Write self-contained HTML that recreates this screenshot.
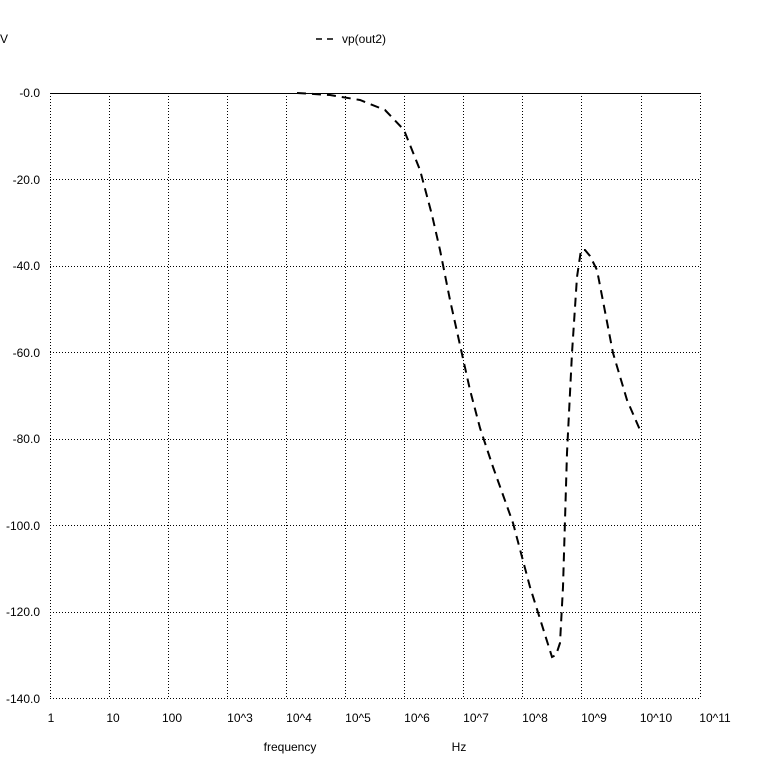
<!DOCTYPE html>
<html><head><meta charset="utf-8"><style>
body{margin:0;background:#fff}
svg text{font-family:"Liberation Sans",sans-serif;font-size:12px;fill:#000}
</style></head><body>
<svg width="768" height="768" viewBox="0 0 768 768">
<g stroke="#000" stroke-width="1" stroke-dasharray="1,2" fill="none">
<path d="M50.5 93V698M109.5 93V698M168.5 93V698M227.5 93V698M286.5 93V698M345.5 93V698M404.5 93V698M463.5 93V698M522.5 93V698M581.5 93V698M641.5 93V698M700.5 93V698"/>
<path d="M50 179.5H700M50 266.5H700M50 352.5H700M50 439.5H700M50 525.5H700M50 612.5H700M50 698.5H700"/>
</g>
<line x1="50" y1="93.5" x2="700" y2="93.5" stroke="#000"/>
<g text-anchor="end">
<text x="40" y="97">-0.0</text><text x="40" y="184">-20.0</text><text x="40" y="270">-40.0</text><text x="40" y="357">-60.0</text><text x="40" y="443">-80.0</text><text x="40" y="530">-100.0</text><text x="40" y="616">-120.0</text><text x="40" y="703">-140.0</text>
</g>
<g text-anchor="middle">
<text x="51" y="722">1</text><text x="113" y="722">10</text><text x="172" y="722">100</text><text x="240" y="722">10^3</text><text x="299" y="722">10^4</text><text x="358" y="722">10^5</text><text x="417" y="722">10^6</text><text x="476" y="722">10^7</text><text x="535" y="722">10^8</text><text x="594" y="722">10^9</text><text x="656" y="722">10^10</text><text x="715" y="722">10^11</text>
<text x="290" y="751">frequency</text><text x="459" y="751">Hz</text>
</g>
<text x="0" y="43">V</text>
<text x="342" y="43">vp(out2)</text>
<line x1="316" y1="39" x2="336" y2="39" stroke="#000" stroke-width="1.5" stroke-dasharray="6,5"/>
<polyline fill="none" stroke="#000" stroke-width="2" stroke-dasharray="9,6" points="297,93 330,95 360,100 385,110 404,130 420,170 432,215 440,250 450,300 460,345 470,390 480,428 493,467 513,523 530,587 552,657 556,655 560,643 563,587 567,453 572,353 577,277 581,250 585,250 590,256 597,270 613,353 627,400 640,430"/>
</svg>
</body></html>
